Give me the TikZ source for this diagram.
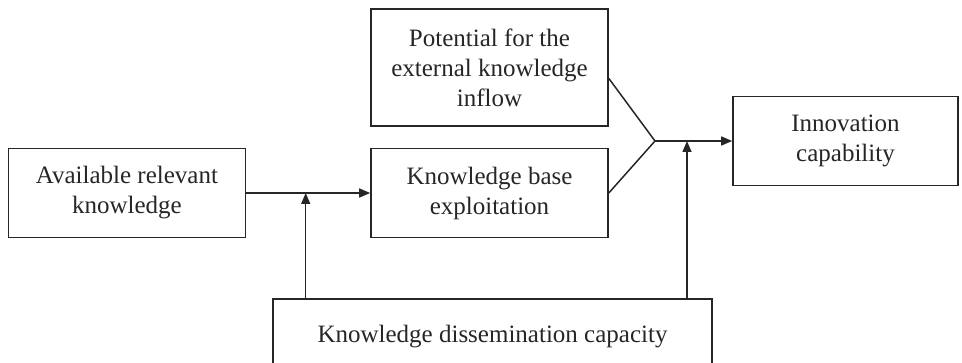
\documentclass[tikz,border=0pt]{standalone}
\usepackage{fontspec}
\setmainfont{Liberation Serif}
\usepackage{tikz}
\usetikzlibrary{arrows.meta,positioning,calc}

\begin{document}
\begin{tikzpicture}[x=1pt, y=1pt, every node/.style={draw, line width=1.6pt, align=center, inner sep=0pt, minimum height=89pt, minimum width=237pt, font=\fontsize{25}{30}\selectfont}, node distance=124pt, >={Triangle[length=11pt,width=9pt]}, line width=1.5pt, black!85]
        \useasboundingbox (0,0) rectangle (962,362);
        \node at (489.5,169) (kb) {Knowledge base\\exploitation};
        \node[left=of kb] (avail) {Available relevant\\knowledge};
        \node[above=21pt of kb, minimum height=117pt] (pot) {Potential for the\\external knowledge\\inflow};
        \node[below=60pt of kb, xshift=3pt, minimum width=439pt, minimum height=74pt] (diss) {Knowledge dissemination capacity};
        \node[minimum width=225pt] at (845.5,221) (innov) {Innovation\\capability};

        \coordinate (m1) at ($(avail.east)!0.48!(kb.west)$);
        \coordinate (j) at (655,221);
        \coordinate (m2) at (687,221);

        \draw[->] (avail) to (kb);
        \draw[->] (diss.north -| m1) to (m1);
        \draw ([yshift=-11pt]pot.east) to (j);
        \draw (kb.east) to (j);
        \draw[->] (j) to (innov.west);
        \draw[->] (diss.north -| m2) to (m2);
      \end{tikzpicture}
\end{document}
